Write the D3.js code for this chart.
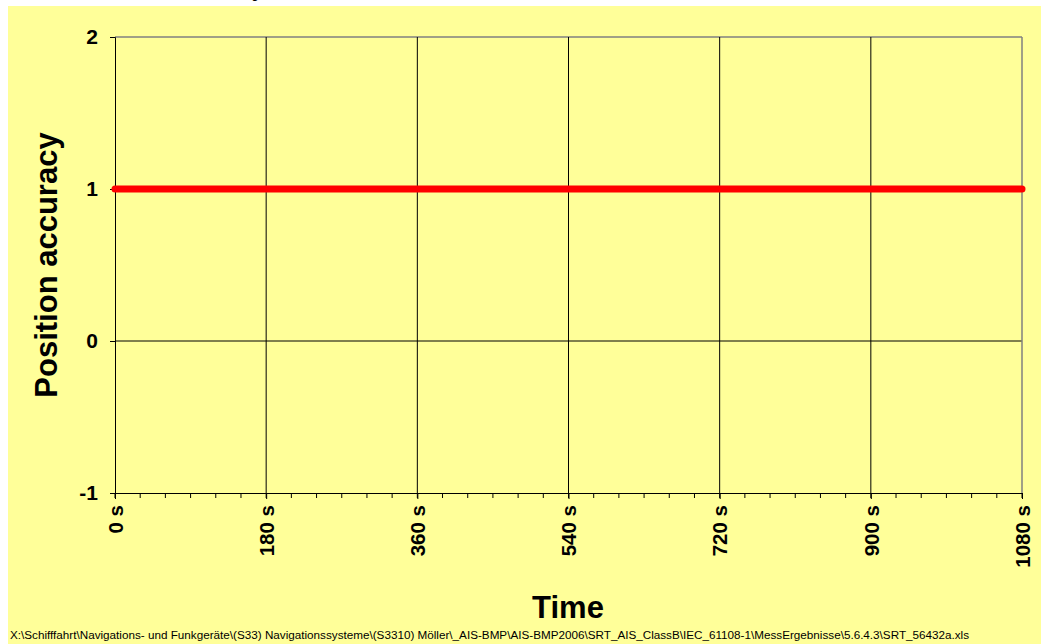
<!DOCTYPE html>
<html>
<head>
<meta charset="utf-8">
<script src="https://cdn.jsdelivr.net/npm/d3@7"></script>
<style>
  html, body { margin: 0; padding: 0; background: #fff; }
  svg { display: block; font-family: "Liberation Sans", Arial, sans-serif; }
</style>
</head>
<body>
<svg id="chart" width="1041" height="644"></svg>
<script>
// time in seconds, position accuracy flag
const times = [0, 60, 120, 180, 240, 300, 360, 420, 480, 540, 600, 660, 720, 780, 840, 900, 960, 1020, 1080];
const accuracy = [1, 1, 1, 1, 1, 1, 1, 1, 1, 1, 1, 1, 1, 1, 1, 1, 1, 1, 1];
const xTicks = [0, 180, 360, 540, 720, 900, 1080];
const xMinorTicks = d3.range(0, 1081, 30);
const yTicks = [-1, 0, 1, 2];
const footer = "X:\\Schifffahrt\\Navigations- und Funkgeräte\\(S33) Navigationssysteme\\(S3310) Möller\\_AIS-BMP\\AIS-BMP2006\\SRT_AIS_ClassB\\IEC_61108-1\\MessErgebnisse\\5.6.4.3\\SRT_56432a.xls";

const width = 1041;
const height = 644;
const margin = { top: 37, right: 19, bottom: 151, left: 115 };

const svg = d3.select("#chart");

// chart area background
svg.append("rect")
  .attr("x", 8).attr("y", 6)
  .attr("width", width - 8).attr("height", height - 6)
  .attr("fill", "#ffff99");

// title, mostly outside the visible frame
svg.append("text")
  .attr("x", 264).attr("y", -4)
  .attr("text-anchor", "end")
  .attr("font-size", 22).attr("font-weight", "bold")
  .text("Position accuracy");

const x = d3.scaleLinear().domain([0, 1080]).range([margin.left, width - margin.right]);
const y = d3.scaleLinear().domain([-1, 2]).range([height - margin.bottom, margin.top]);

// horizontal gridlines
svg.append("g")
  .selectAll("line")
  .data(yTicks.filter((d) => d > -1))
  .join("line")
  .attr("x1", x(0)).attr("x2", x(1080))
  .attr("y1", (d) => y(d)).attr("y2", (d) => y(d))
  .attr("stroke", (d) => (d === 2 ? "#808080" : "#000"))
  .attr("stroke-width", (d) => (d === 2 ? 1.5 : 1));

// vertical gridlines
svg.append("g")
  .selectAll("line")
  .data(xTicks.filter((d) => d > 0))
  .join("line")
  .attr("x1", (d) => x(d)).attr("x2", (d) => x(d))
  .attr("y1", y(2)).attr("y2", y(-1))
  .attr("stroke", (d) => (d === 1080 ? "#808080" : "#000"))
  .attr("stroke-width", (d) => (d === 1080 ? 1.5 : 1));

// minor ticks on time axis
svg.append("g")
  .selectAll("line")
  .data(xMinorTicks)
  .join("line")
  .attr("x1", (d) => x(d)).attr("x2", (d) => x(d))
  .attr("y1", y(-1)).attr("y2", y(-1) + 5)
  .attr("stroke", "#000");

// y axis
const yAxis = svg.append("g")
  .attr("transform", `translate(${margin.left},0)`)
  .call(d3.axisLeft(y).tickValues(yTicks).tickSize(5).tickPadding(12).tickFormat((d) => String(d)));
yAxis.select(".domain").attr("stroke", "#000");
yAxis.selectAll("text")
  .attr("font-size", 21).attr("font-weight", "bold")
  .attr("font-family", "Liberation Sans, Arial, sans-serif")
  .attr("fill", "#000");

// x axis
const xAxis = svg.append("g")
  .attr("transform", `translate(0,${y(-1)})`)
  .call(d3.axisBottom(x).tickValues(xTicks).tickSize(6).tickFormat((d) => `${d} s`));
xAxis.select(".domain").attr("stroke", "#000");
xAxis.selectAll("text")
  .attr("font-size", 20.5).attr("font-weight", "bold")
  .attr("font-family", "Liberation Sans, Arial, sans-serif")
  .attr("fill", "#000")
  .attr("transform", "rotate(-90)")
  .attr("text-anchor", "end")
  .attr("x", -12).attr("y", 0).attr("dy", "0.35em");

// series
const line = d3.line()
  .x((d, i) => x(times[i]))
  .y((d) => y(d));

svg.append("path")
  .datum(accuracy)
  .attr("fill", "none")
  .attr("stroke", "#ff0000")
  .attr("stroke-width", 7)
  .attr("stroke-linecap", "round")
  .attr("d", line);

// axis titles
svg.append("text")
  .attr("transform", `translate(57,265) rotate(-90)`)
  .attr("text-anchor", "middle")
  .attr("font-size", 31).attr("font-weight", "bold")
  .text("Position accuracy");

svg.append("text")
  .attr("x", 568).attr("y", 618)
  .attr("text-anchor", "middle")
  .attr("font-size", 31).attr("font-weight", "bold")
  .text("Time");

svg.append("text")
  .attr("x", 10).attr("y", 639)
  .attr("font-size", 11.7)
  .text(footer);
</script>
</body>
</html>
